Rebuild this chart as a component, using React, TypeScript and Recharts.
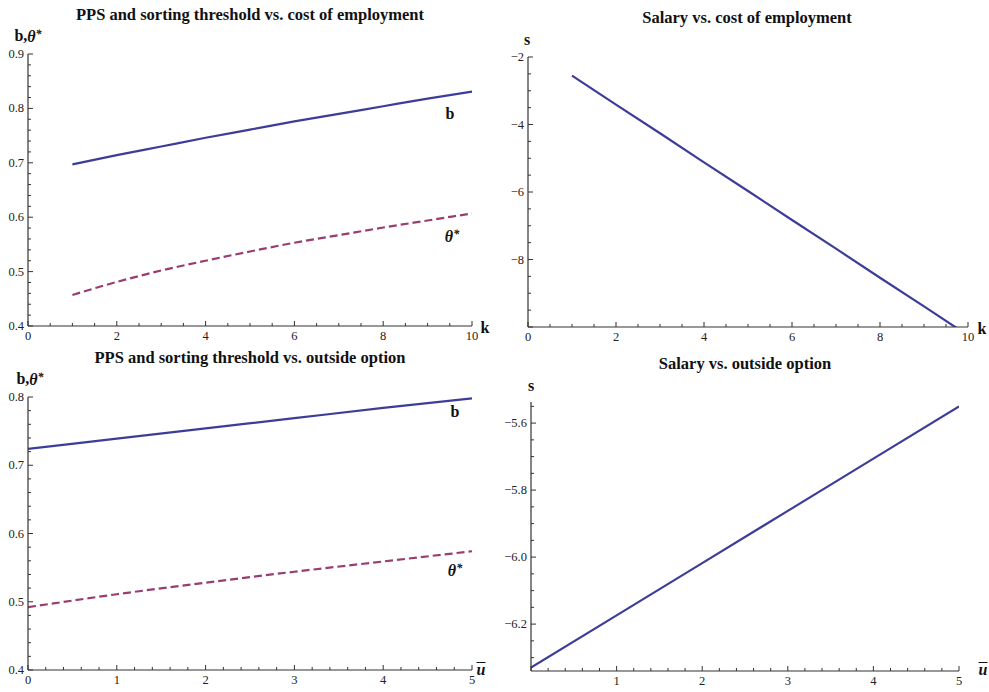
import React from 'react';
import { LineChart, Line, XAxis, YAxis } from 'recharts';

// ---------- data ----------
const kValues = [1, 2, 3, 4, 5, 6, 7, 8, 9, 10];
const bVsK = [0.697, 0.714, 0.730, 0.746, 0.761, 0.776, 0.790, 0.804, 0.818, 0.831];
const thetaVsK = [0.457, 0.481, 0.502, 0.520, 0.537, 0.553, 0.567, 0.581, 0.594, 0.607];
const salaryVsK = [-2.55, -3.41, -4.26, -5.12, -5.97, -6.83, -7.68, -8.54, -9.39, -10.25];

const uValues = [0, 1, 2, 3, 4, 5];
const bVsU = [0.724, 0.739, 0.754, 0.769, 0.784, 0.798];
const thetaVsU = [0.492, 0.511, 0.528, 0.544, 0.559, 0.574];
const salaryVsU = [-6.33, -6.174, -6.018, -5.862, -5.706, -5.55];

// tick labels
const kMajorTicks = [0, 2, 4, 6, 8, 10];
const kLabeledTL = [0, 2, 4, 6, 8, 10];
const kLabeledTR = [0, 2, 4, 6, 8, 10];
const uMajorTicks = [0, 1, 2, 3, 4, 5];
const uLabeledBL = [0, 1, 2, 3, 4, 5];
const uLabeledBR = [1, 2, 3, 4, 5];
const ppsKMajor = [0.4, 0.5, 0.6, 0.7, 0.8, 0.9];
const ppsUMajor = [0.4, 0.5, 0.6, 0.7, 0.8];
const salKMajor = [-10, -8, -6, -4, -2];
const salKLabeled = [-8, -6, -4, -2];
const salUMajor = [-6.2, -6.0, -5.8, -5.6];

const BLUE = '#3d3d99';
const PURPLE = '#993d71';
const AXIS = '#333';
const FONT = "'Liberation Serif', 'DejaVu Serif', serif";

const stepTicks = (from: number, to: number, step: number) => {
  const out: number[] = [];
  const n = Math.round((to - from) / step);
  for (let i = 0; i <= n; i++) out.push(Math.round((from + i * step) * 1000) / 1000);
  return out;
};

const has = (arr: number[], v: number) => arr.some((a) => Math.abs(a - v) < 1e-6);
const fmt = (dec: number) => (v: number) => {
  const s = Math.abs(v).toFixed(dec);
  return v < 0 ? '\u2212' + s : s;
};

const makeTick = (axis: 'x' | 'y', majors: number[], labeled: number[], format: (v: number) => string) =>
  (props: any) => {
    const { x, y, payload } = props;
    const v = payload.value;
    const major = has(majors, v);
    const len = major ? 5 : 3;
    const showLabel = has(labeled, v);
    if (axis === 'y') {
      return (
        <g>
          <line x1={x} y1={y} x2={x + len} y2={y} stroke={AXIS} strokeWidth={1} />
          {showLabel && (
            <text x={x - 4} y={y} dy={4} textAnchor="end" style={{ fontFamily: FONT, fontSize: 12.5 }} fill="#222">
              {format(v)}
            </text>
          )}
        </g>
      );
    }
    return (
      <g>
        <line x1={x} y1={y} x2={x} y2={y - len} stroke={AXIS} strokeWidth={1} />
        {showLabel && (
          <text x={x} y={y + 14} textAnchor="middle" style={{ fontFamily: FONT, fontSize: 12.5 }} fill="#222">
            {format(v)}
          </text>
        )}
      </g>
    );
  };

type Rect = { x0: number; x1: number; y0: number; y1: number };

const Lbl = ({ x, y, children, size = 16, italic = false, bold = true }: any) => (
  <div
    style={{
      position: 'absolute',
      left: x,
      top: y,
      transform: 'translate(-50%, -50%)',
      whiteSpace: 'nowrap',
      fontFamily: FONT,
      fontSize: size,
      fontWeight: bold ? 'bold' : 'normal',
      fontStyle: italic ? 'italic' : 'normal',
      lineHeight: '1',
      color: '#111',
    }}
  >
    {children}
  </div>
);

const Theta = () => (
  <span style={{ fontStyle: 'italic' }}>
    θ<span style={{ fontSize: '0.75em', verticalAlign: '0.3em' }}>*</span>
  </span>
);

const UBar = () => (
  <span
    style={{
      fontStyle: 'italic',
      display: 'inline-block',
      borderTop: '1.5px solid #111',
      lineHeight: '0.7em',
      paddingTop: 1,
    }}
  >
    u
  </span>
);

const Panel = ({
  rect,
  data,
  xDomain,
  yDomain,
  xTicks,
  yTicks,
  xTick,
  yTick,
  children,
  clip = false,
}: any) => {
  const r: Rect = rect;
  const L = 34, T = 10, R = 20, B = 25;
  const w = r.x1 - r.x0 + L + R;
  const h = r.y1 - r.y0 + T + B;
  return (
    <div style={{ position: 'absolute', left: r.x0 - L, top: r.y0 - T, width: w, height: h }}>
      <LineChart width={w} height={h} data={data} margin={{ top: T, right: R, left: 0, bottom: 0 }}>
        <XAxis
          dataKey="x"
          type="number"
          domain={xDomain}
          ticks={xTicks}
          interval={0}
          height={B}
          tickSize={0}
          tickMargin={0}
          tickLine={false}
          axisLine={{ stroke: AXIS, strokeWidth: 1.2 }}
          tick={xTick}
          allowDataOverflow
        />
        <YAxis
          type="number"
          domain={yDomain}
          ticks={yTicks}
          interval={0}
          width={L}
          tickSize={0}
          tickMargin={0}
          tickLine={false}
          axisLine={{ stroke: AXIS, strokeWidth: 1.2 }}
          tick={yTick}
          allowDataOverflow={clip}
        />
        {children}
      </LineChart>
    </div>
  );
};

export default function App() {
  const kData = kValues.map((k, i) => ({ x: k, b: bVsK[i], t: thetaVsK[i], s: salaryVsK[i] }));
  const uData = uValues.map((u, i) => ({ x: u, b: bVsU[i], t: thetaVsU[i], s: salaryVsU[i] }));

  const titleStyle = { size: 16.5 };

  return (
    <div style={{ position: 'absolute', left: 0, top: 0, width: 989, height: 692, background: '#fff', overflow: 'hidden' }}>
      {/* Top-left */}
      <Panel
        rect={{ x0: 28, x1: 472, y0: 54, y1: 326 }}
        data={kData}
        xDomain={[0, 10]}
        yDomain={[0.4, 0.9]}
        xTicks={stepTicks(0, 10, 0.5)}
        yTicks={stepTicks(0.4, 0.9, 0.02)}
        xTick={makeTick('x', kMajorTicks, kLabeledTL, fmt(0))}
        yTick={makeTick('y', ppsKMajor, ppsKMajor, fmt(1))}
      >
        <Line dataKey="b" type="monotone" stroke={BLUE} strokeWidth={2.2} dot={false} isAnimationActive={false} />
        <Line dataKey="t" type="monotone" stroke={PURPLE} strokeWidth={2.2} strokeDasharray="8 4" dot={false} isAnimationActive={false} />
      </Panel>

      {/* Top-right */}
      <Panel
        rect={{ x0: 528, x1: 968, y0: 57, y1: 327 }}
        data={kData}
        xDomain={[0, 10]}
        yDomain={[-10, -2]}
        xTicks={stepTicks(0, 10, 0.5)}
        yTicks={stepTicks(-10, -2, 0.5)}
        xTick={makeTick('x', kMajorTicks, kLabeledTR, fmt(0))}
        yTick={makeTick('y', salKMajor, salKLabeled, fmt(0))}
        clip
      >
        <Line dataKey="s" type="linear" stroke={BLUE} strokeWidth={2.2} dot={false} isAnimationActive={false} />
      </Panel>

      {/* Bottom-left */}
      <Panel
        rect={{ x0: 28, x1: 472, y0: 397, y1: 670 }}
        data={uData}
        xDomain={[0, 5]}
        yDomain={[0.4, 0.8]}
        xTicks={stepTicks(0, 5, 0.2)}
        yTicks={stepTicks(0.4, 0.8, 0.02)}
        xTick={makeTick('x', uMajorTicks, uLabeledBL, fmt(0))}
        yTick={makeTick('y', ppsUMajor, ppsUMajor, fmt(1))}
      >
        <Line dataKey="b" type="monotone" stroke={BLUE} strokeWidth={2.2} dot={false} isAnimationActive={false} />
        <Line dataKey="t" type="monotone" stroke={PURPLE} strokeWidth={2.2} strokeDasharray="8 4" dot={false} isAnimationActive={false} />
      </Panel>

      {/* Bottom-right */}
      <Panel
        rect={{ x0: 531, x1: 959, y0: 402, y1: 671 }}
        data={uData}
        xDomain={[0, 5]}
        yDomain={[-6.34, -5.537]}
        xTicks={stepTicks(0, 5, 0.2)}
        yTicks={stepTicks(-6.3, -5.55, 0.05)}
        xTick={makeTick('x', uMajorTicks, uLabeledBR, fmt(0))}
        yTick={makeTick('y', salUMajor, salUMajor, fmt(1))}
        clip
      >
        <Line dataKey="s" type="linear" stroke={BLUE} strokeWidth={2.2} dot={false} isAnimationActive={false} />
      </Panel>

      {/* Titles */}
      <Lbl x={250} y={15} {...titleStyle}>PPS and sorting threshold vs. cost of employment</Lbl>
      <Lbl x={747} y={18} {...titleStyle}>Salary vs. cost of employment</Lbl>
      <Lbl x={250} y={358} {...titleStyle}>PPS and sorting threshold vs. outside option</Lbl>
      <Lbl x={745} y={364} {...titleStyle}>Salary vs. outside option</Lbl>

      {/* Axis labels */}
      <Lbl x={28} y={36}>b,<Theta /></Lbl>
      <Lbl x={527} y={40}>s</Lbl>
      <Lbl x={30} y={379}>b,<Theta /></Lbl>
      <Lbl x={531} y={386}>s</Lbl>
      <Lbl x={485} y={328}>k</Lbl>
      <Lbl x={982} y={329}>k</Lbl>
      <Lbl x={481} y={670}><UBar /></Lbl>
      <Lbl x={983} y={670}><UBar /></Lbl>

      {/* Curve labels */}
      <Lbl x={450} y={114}>b</Lbl>
      <Lbl x={452} y={236}><Theta /></Lbl>
      <Lbl x={455} y={412}>b</Lbl>
      <Lbl x={455} y={570}><Theta /></Lbl>
    </div>
  );
}
